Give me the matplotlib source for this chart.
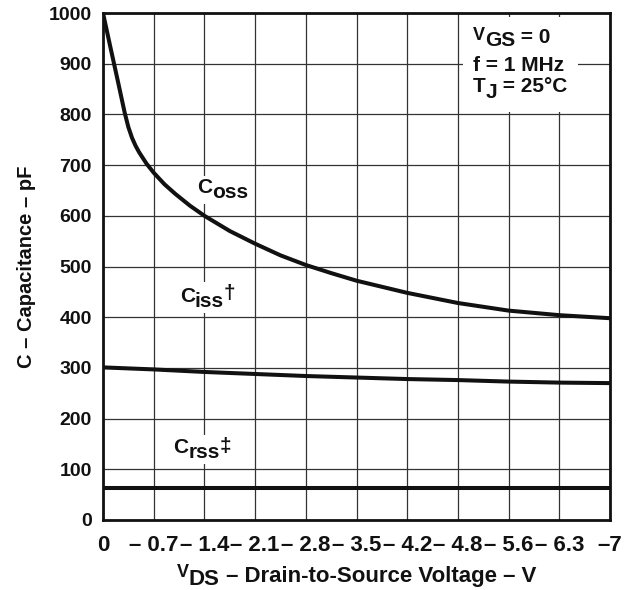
import matplotlib
matplotlib.use("Agg")
import matplotlib.pyplot as plt
import matplotlib.transforms as mtrans
from matplotlib.transforms import offset_copy, Bbox
from matplotlib.patches import Rectangle

plt.rcParams['font.family'] = ['Liberation Sans', 'DejaVu Sans']
plt.rcParams['font.weight'] = 'bold'

# Data (V_DS in volts, capacitance in pF)
tick_positions = [0, -0.7, -1.4, -2.1, -2.8, -3.5, -4.2, -4.9, -5.6, -6.3, -7.0]
tick_labels = ["0", "– 0.7", "– 1.4", "– 2.1", "– 2.8", "– 3.5", "– 4.2",
               "– 4.8", "– 5.6", "– 6.3", "–7"]
y_ticks = [0, 100, 200, 300, 400, 500, 600, 700, 800, 900, 1000]

coss_v = [0, -0.1, -0.2, -0.3, -0.35, -0.4, -0.45, -0.5, -0.6, -0.7, -0.85, -1.0, -1.2,
          -1.4, -1.75, -2.1, -2.45, -2.8, -3.15, -3.5, -4.2, -4.9, -5.6, -6.3, -7.0]
coss_c = [1000, 934, 869, 803, 775, 754, 738, 725, 703, 685, 662, 643, 620,
          600, 570, 545, 522, 503, 487, 472, 448, 428, 413, 404, 398]

ciss_v = [0, -0.7, -1.4, -2.1, -2.8, -3.5, -4.2, -4.9, -5.6, -6.3, -7.0]
ciss_c = [301, 297, 292, 288, 284, 281, 278, 276, 273, 271, 270]

crss_v = [0, -7.0]
crss_c = [63, 63]

DPI = 100
fig = plt.figure(figsize=(6.29, 5.90), dpi=DPI)
ax = fig.add_axes([103/629, 70/590, 507/629, 507/590])
renderer = fig.canvas.get_renderer()

ax.set_xlim(0, -7)
ax.set_ylim(0, 1000)
ax.set_xticks(tick_positions)
ax.set_xticklabels(tick_labels)
ax.set_yticks(y_ticks)
ax.tick_params(length=0)
ax.tick_params(axis='y', labelsize=14, pad=8)
ax.tick_params(axis='x', labelsize=16, pad=11)
for lab in ax.get_xticklabels() + ax.get_yticklabels():
    lab.set_fontweight('bold')
    lab.set_color('#111111')
ax.grid(True, color='#333333', linewidth=0.9)
ax.set_axisbelow(True)
for s in ax.spines.values():
    s.set_linewidth(2.0)
    s.set_color('#111111')

lw = 2.9
for xv, yv in ((coss_v, coss_c), (ciss_v, ciss_c), (crss_v, crss_c)):
    ax.plot(xv, yv, color='#111111', lw=lw, solid_capstyle='butt', zorder=3)


def rich_text(x, y, pieces, transform, ha='left', zorder=5):
    """pieces: list of (text, fontsize, dy_pixels). Drawn left to right on a baseline."""
    widths = []
    for txt, size, dy in pieces:
        t = fig.text(0, 0, txt, fontsize=size, fontweight='bold')
        widths.append(t.get_window_extent(renderer).width)
        t.remove()
    total = sum(widths)
    dx = -total / 2 if ha == 'center' else 0.0
    artists = []
    for (txt, size, dy), w in zip(pieces, widths):
        tr = offset_copy(transform, fig=fig, x=dx * 72 / DPI, y=dy * 72 / DPI, units='points')
        a = fig.text(x, y, txt, fontsize=size, fontweight='bold', color='#111111',
                     ha='left', va='baseline', transform=tr, zorder=zorder)
        artists.append(a)
        dx += w
    return artists


def white_box(artists, pad=3):
    bbs = [a.get_window_extent(renderer) for a in artists]
    bb = Bbox.union(bbs)
    inv = fig.transFigure.inverted()
    (x0, y0), (x1, y1) = inv.transform([[bb.x0 - pad, bb.y0 - pad], [bb.x1 + pad, bb.y1 + pad]])
    fig.patches.append(Rectangle((x0, y0), x1 - x0, y1 - y0, transform=fig.transFigure,
                                 facecolor='white', edgecolor='none', zorder=4, figure=fig))


# curve labels
lab_coss = rich_text(-1.30, 645, [("C", 15, 0), ("oss", 15, -5)], ax.transData)
lab_ciss = rich_text(-1.06, 430, [("C", 15, 0), ("iss", 15, -5), ("†", 15, 3)], ax.transData)
lab_crss = rich_text(-0.97, 132, [("C", 15, 0), ("rss", 15, -5), ("‡", 15, 1)], ax.transData)
for arts in (lab_coss, lab_ciss, lab_crss):
    white_box(arts, pad=2)

# conditions
c1 = rich_text(-5.11, 941, [("V", 13, 3), ("GS", 15, -3), (" = 0", 15, 0)], ax.transData)
c2 = rich_text(-5.11, 886, [("f = 1 MHz", 15, 0)], ax.transData)
c3 = rich_text(-5.11, 844, [("T", 15, 0), ("J", 15, -6), (" = 25°C", 15, 0)], ax.transData)
white_box(c1 + c2 + c3, pad=10)

# axis labels
xl_trans = mtrans.blended_transform_factory(ax.transAxes, fig.transFigure)
rich_text(0.5, 8 / 590, [("V", 13, 5), ("DS", 16, -3), (" – Drain-to-Source Voltage – V", 16, 0)],
          xl_trans, ha='center')
ax.set_ylabel('C – Capacitance – pF', fontsize=14.5, fontweight='bold', labelpad=9,
              color='#111111')

fig.savefig('out.png', dpi=DPI)
